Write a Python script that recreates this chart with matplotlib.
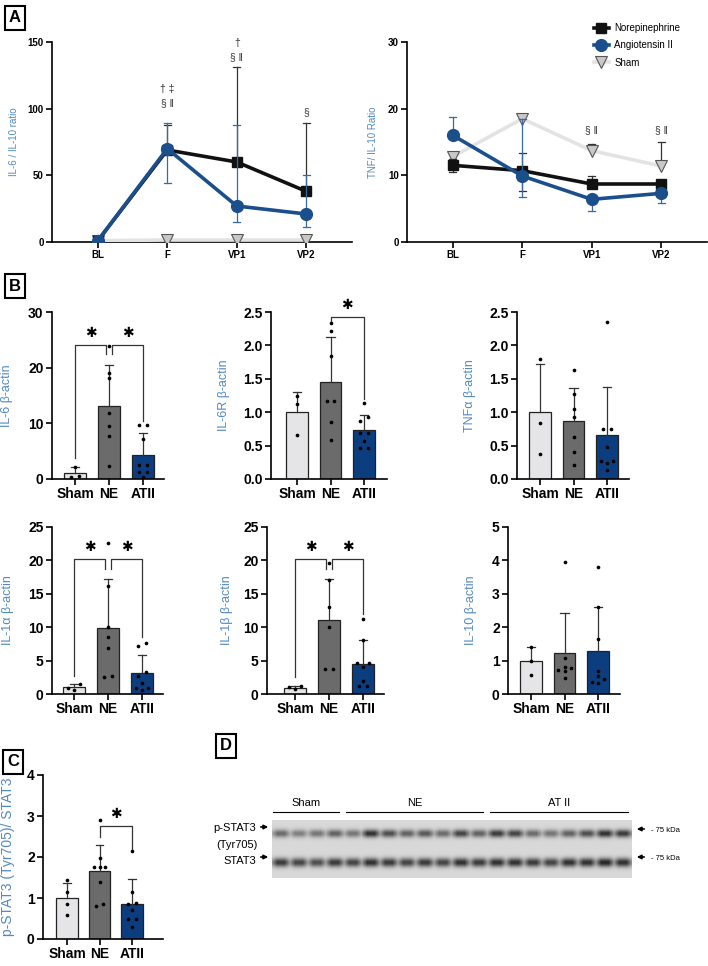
import numpy as np
import matplotlib.pyplot as plt

plt.rcParams['font.family'] = ['Liberation Sans', 'DejaVu Sans']
plt.rcParams['axes.linewidth'] = 1.2

W, H = 708, 966

# Panel A: cytokine ratios over time
timepoints = ['BL', 'F', 'VP1', 'VP2']
series_names = ['Norepinephrine', 'Angiotensin II', 'Sham']

il6_ne = [1, 69, 60, 38]
il6_ne_up = [0, 19, 71, 51]
il6_ne_lo = [0, 0, 0, 0]
il6_at = [1, 70, 27, 21]
il6_at_up = [0, 19, 61, 29]
il6_at_lo = [0, 26, 12, 10]
il6_sham = [1, 1.5, 1.5, 1.5]
il6_sham_up = [0, 0, 0, 0]

tnf_ne = [11.5, 10.7, 8.7, 8.7]
tnf_ne_up = [1.0, 2.7, 1.2, 0]
tnf_ne_lo = [1.0, 3.0, 0, 0]
tnf_at = [16.0, 9.9, 6.4, 7.3]
tnf_at_up = [2.7, 8.6, 0, 0]
tnf_at_lo = [0, 3.1, 1.7, 1.5]
tnf_sham = [12.8, 18.5, 13.7, 11.4]
tnf_sham_up = [0, 0, 1.0, 3.6]

# Panel B / C: relative expression, three groups
groups = ['Sham', 'NE', 'ATII']

il6_means = [1.0, 13.1, 4.4]
il6_sd = [1.2, 7.4, 3.8]
il6_pts = [[2.2, 0.6, 0.3], [23.9, 19.0, 18.2, 11.8, 9.5, 7.7, 2.3],
           [9.7, 9.7, 7.2, 2.5, 2.5, 1.3, 1.3, 0.4]]

il6r_means = [1.0, 1.45, 0.73]
il6r_sd = [0.3, 0.68, 0.23]
il6r_pts = [[1.25, 1.13, 0.66], [2.34, 2.22, 1.84, 1.17, 1.17, 0.85, 0.58],
            [1.14, 0.93, 0.87, 0.69, 0.69, 0.57, 0.46, 0.46]]

tnfa_means = [1.0, 0.87, 0.66]
tnfa_sd = [0.72, 0.49, 0.72]
tnfa_pts = [[1.79, 0.84, 0.37], [1.63, 1.27, 1.05, 0.93, 0.63, 0.40, 0.21],
            [2.35, 0.75, 0.75, 0.48, 0.27, 0.27, 0.24, 0.13]]

il1a_means = [1.0, 9.9, 3.1]
il1a_sd = [0.45, 7.3, 2.8]
il1a_pts = [[1.5, 0.9, 0.6], [22.6, 16.2, 10.0, 8.5, 6.9, 2.7, 2.5],
            [7.6, 7.2, 3.3, 2.7, 1.7, 0.9, 0.9, 0.6]]

il1b_means = [0.95, 11.1, 4.5]
il1b_sd = [0.2, 6.1, 3.6]
il1b_pts = [[1.2, 1.1, 0.75], [19.6, 17.1, 13.0, 10.0, 3.7, 3.7],
            [11.3, 8.1, 4.6, 4.6, 4.0, 1.9, 1.2, 1.2]]

il10_means = [1.0, 1.22, 1.28]
il10_sd = [0.4, 1.21, 1.32]
il10_pts = [[1.4, 1.0, 0.57], [3.95, 1.07, 0.8, 0.78, 0.72, 0.7, 0.47],
            [3.8, 2.6, 1.65, 0.68, 0.55, 0.45, 0.35, 0.32]]

stat_means = [1.0, 1.65, 0.86]
stat_sd = [0.37, 0.65, 0.6]
stat_pts = [[1.45, 1.15, 0.85, 0.58], [2.9, 1.97, 1.75, 1.75, 1.75, 1.4, 0.85, 0.8],
            [2.15, 1.15, 0.87, 0.85, 0.7, 0.5, 0.5, 0.3]]

# Panel D: western blot band darkness per lane (4 Sham, 8 NE, 8 AT II)
pstat3_bands = [0.55, 0.45, 0.5, 0.6, 0.5, 0.85, 0.7, 0.6, 0.65, 0.55,
                0.75, 0.6, 0.8, 0.75, 0.55, 0.5, 0.6, 0.7, 0.85, 0.8]
stat3_bands = [0.8, 0.75, 0.7, 0.8, 0.75, 0.85, 0.8, 0.75, 0.8, 0.75,
               0.85, 0.8, 0.85, 0.85, 0.8, 0.75, 0.85, 0.85, 0.9, 0.85]

bar_colors = ['#e5e5e7', '#6b6b6b', '#0c3e7f']
label_blue = '#5289c0'
at_blue = '#1b4f8c'

fig = plt.figure(figsize=(W / 100, H / 100), dpi=100)


def px_axes(left, top, right, bottom):
    return fig.add_axes([left / W, 1 - bottom / H, (right - left) / W, (bottom - top) / H])


def bold_ticks(ax):
    for t in ax.get_xticklabels() + ax.get_yticklabels():
        t.set_fontweight('bold')


def draw_err(ax, x, y, up, lo, color, cap, z):
    for xi, yi, u, l in zip(x, y, up, lo):
        for d in (u, -l):
            if d != 0:
                ax.plot([xi, xi], [yi, yi + d], color=color, lw=0.9, zorder=z)
                ax.plot([xi - cap, xi + cap], [yi + d] * 2, color=color, lw=0.9, zorder=z)


def line_panel(ax, ne, ne_up, ne_lo, at, at_up, at_lo, sham, sham_up, ymax, ylabel, label_px, left_px):
    x = np.arange(len(timepoints))
    h_sham, = ax.plot(x, sham, color='#e3e3e3', lw=2.6, marker='v', ms=8,
                      mfc='#c8c8c8', mec='#555555', mew=0.8, zorder=3)
    draw_err(ax, x, sham, sham_up, [0] * 4, '#333333', 0.05, 2)
    h_ne, = ax.plot(x, ne, color='#111111', lw=2.6, marker='s', ms=7.5, zorder=5)
    draw_err(ax, x, ne, ne_up, ne_lo, '#333333', 0.05, 4)
    h_at, = ax.plot(x, at, color=at_blue, lw=2.6, marker='o', ms=8.5, zorder=7)
    draw_err(ax, x, at, at_up, at_lo, '#3a68a0', 0.05, 6)
    ax.set_xlim(-0.66, 3.66)
    ax.set_ylim(0, ymax)
    ax.set_yticks(np.linspace(0, ymax, 4))
    ax.set_xticks(x)
    ax.set_xticklabels(timepoints)
    ax.spines[['top', 'right']].set_visible(False)
    ax.tick_params(length=4, width=1.2, labelsize=7, pad=2)
    bold_ticks(ax)
    ax.set_ylabel(ylabel, color=label_blue, fontsize=7)
    ax.yaxis.set_label_coords((label_px - left_px) / 300, 0.5)
    return h_ne, h_at, h_sham


def spread(vals, tol):
    # small horizontal offsets for points that sit at nearly the same height
    order = np.argsort(vals)
    v = np.asarray(vals, dtype=float)[order]
    offs = np.zeros(len(v))
    pattern = [0.0, -0.18, 0.18]
    start = 0
    for i in range(1, len(v) + 1):
        if i == len(v) or v[i] - v[i - 1] > tol:
            n = i - start
            if n == 2:
                offs[start:i] = [-0.11, 0.11]
            elif n > 2:
                offs[start:i] = [pattern[k % 3] for k in range(n)]
            start = i
    out = np.zeros(len(v))
    out[order] = offs
    return out


def bar_panel(box, first_px, sp, means, sds, pts, ymax, step, ylabel, label_px,
              brackets=(), label_size=9):
    left, top, right, bottom = box
    ax = px_axes(left, top, right, bottom)
    x = np.arange(3)
    ax.bar(x, means, width=0.65, color=bar_colors, edgecolor='#222222', lw=0.9, zorder=2)
    for xi, m, s in zip(x, means, sds):
        ax.plot([xi, xi], [m, m + s], color='#333333', lw=0.9, zorder=3)
        ax.plot([xi - 0.12, xi + 0.12], [m + s] * 2, color='#333333', lw=0.9, zorder=3)
    for xi, vals in zip(x, pts):
        ax.scatter(xi + spread(vals, 0.025 * ymax), vals, s=7, color='black', lw=0, zorder=4)
    for x1, x2, y, y1, y2 in brackets:
        ax.plot([x1, x1, x2, x2], [y1, y, y, y2], color='#333333', lw=0.9, zorder=3)
        ax.text((x1 + x2) / 2, y + 0.075 * ymax, '\u2731', ha='center', va='center',
                fontsize=10, family='DejaVu Sans', zorder=5)
    ax.set_xlim((left - first_px) / sp, (right - first_px) / sp)
    ax.set_ylim(0, ymax)
    ax.set_yticks(np.arange(0, ymax + step / 2, step))
    ax.set_xticks(x)
    ax.set_xticklabels(groups)
    ax.spines[['top', 'right']].set_visible(False)
    ax.tick_params(length=4, width=1.2, labelsize=10, pad=2)
    bold_ticks(ax)
    ax.set_ylabel(ylabel, color=label_blue, fontsize=label_size)
    ax.yaxis.set_label_coords((label_px - left) / (right - left), 0.5)
    return ax


# ---- panel A
axA1 = px_axes(52, 42, 352, 242)
line_panel(axA1, il6_ne, il6_ne_up, il6_ne_lo, il6_at, il6_at_up, il6_at_lo,
           il6_sham, il6_sham_up, 150, 'IL-6 / IL-10 ratio', 19, 52)
for xi, y, s in [(1, 115, '\u2020 \u2021'), (1, 104, '\u00a7 \u2016'), (2, 149, '\u2020'),
                 (2, 139, '\u00a7 \u2016'), (3, 97.5, '\u00a7')]:
    axA1.text(xi, y, s, ha='center', va='center', fontsize=7.5, color='#333333')

axA2 = px_axes(407, 42, 707, 242)
handles = line_panel(axA2, tnf_ne, tnf_ne_up, tnf_ne_lo, tnf_at, tnf_at_up, tnf_at_lo,
                     tnf_sham, tnf_sham_up, 30, 'TNF/ IL-10 Ratio', 378, 407)
for xi in (2, 3):
    axA2.text(xi, 16.8, '\u00a7 \u2016', ha='center', va='center', fontsize=7.5, color='#333333')

fig.legend(handles, series_names, loc='upper left', bbox_to_anchor=(594 / W, 1 - 23 / H),
           frameon=False, fontsize=7, handlelength=1.5, handletextpad=0.6,
           labelspacing=0.75, borderpad=0, borderaxespad=0)

# ---- panel B
bar_panel((52, 312, 164, 479), 75, 34, il6_means, il6_sd, il6_pts, 30, 10,
          'IL-6 \u03b2-actin', 13,
          brackets=[(0, 0.91, 24, 3.8, 22.5), (1.09, 2, 24, 22.5, 10.5)])
bar_panel((271, 312, 387, 479), 297, 33.5, il6r_means, il6r_sd, il6r_pts, 2.5, 0.5,
          'IL-6R \u03b2-actin', 230, brackets=[(1, 2, 2.42, 2.37, 1.2)])
bar_panel((517, 312, 629, 479), 540, 33.5, tnfa_means, tnfa_sd, tnfa_pts, 2.5, 0.5,
          'TNF\u03b1 \u03b2-actin', 476)
bar_panel((52, 527, 163, 694), 74, 34, il1a_means, il1a_sd, il1a_pts, 25, 5,
          'IL-1\u03b1 \u03b2-actin', 14,
          brackets=[(0, 0.91, 20.2, 2.7, 18.7), (1.09, 2, 20.2, 18.7, 8.5)])
bar_panel((267, 527, 384, 694), 295, 34, il1b_means, il1b_sd, il1b_pts, 25, 5,
          'IL-1\u03b2 \u03b2-actin', 233,
          brackets=[(0, 0.91, 20.2, 2.5, 18.7), (1.09, 2, 20.2, 18.7, 12.0)])
bar_panel((508, 527, 620, 694), 531, 33.5, il10_means, il10_sd, il10_pts, 5, 1,
          'IL-10 \u03b2-actin', 477)

# ---- panel C
bar_panel((43, 775, 163, 939), 67, 32.5, stat_means, stat_sd, stat_pts, 4, 1,
          'p-STAT3 (Tyr705)/ STAT3', 15, brackets=[(1, 2, 2.75, 2.5, 2.2)], label_size=10)

# ---- panel D: blot
axD = px_axes(272, 820, 632, 878)
lane_w = 18
img_h = 58
cols = np.arange(len(pstat3_bands) * lane_w)
rows = np.arange(img_h)[:, None]
lane_idx = cols // lane_w
edge = np.abs((cols % lane_w) - lane_w / 2 + 0.5) / (lane_w / 2)
horiz = np.clip(1.4 - edge, 0, 1)
p_row = np.array(pstat3_bands)[lane_idx] * horiz
s_row = np.array(stat3_bands)[lane_idx] * horiz
img = (0.2 + p_row[None, :] * np.exp(-((rows - 13) / 4.0) ** 2)
       + s_row[None, :] * np.exp(-((rows - 42) / 4.5) ** 2))
axD.imshow(img, cmap='gray_r', vmin=0, vmax=1.3, aspect='auto', interpolation='bilinear')
axD.axis('off')


def fig_text(x, y, s, **kw):
    fig.text(x / W, 1 - y / H, s, **kw)


for name, x1, x2 in [('Sham', 273, 339), ('NE', 346, 483), ('AT II', 490, 628)]:
    fig_text((x1 + x2) / 2, 803, name, ha='center', va='center', fontsize=8)
    fig.add_artist(plt.Line2D([x1 / W, x2 / W], [1 - 812 / H] * 2, color='black', lw=0.8))

fig_text(256, 828, 'p-STAT3', ha='right', va='center', fontsize=8)
fig_text(237, 845, '(Tyr705)', ha='center', va='center', fontsize=8)
fig_text(256, 861, 'STAT3', ha='right', va='center', fontsize=8)
for y in (827, 857):
    fig.add_artist(plt.Annotation('', xy=(271 / W, 1 - y / H), xytext=(258 / W, 1 - y / H),
                                  xycoords='figure fraction',
                                  arrowprops=dict(arrowstyle='-|>', color='black', lw=1.2,
                                                  mutation_scale=6)))
for y in (829, 857):
    fig.add_artist(plt.Annotation('', xy=(634 / W, 1 - y / H), xytext=(647 / W, 1 - y / H),
                                  xycoords='figure fraction',
                                  arrowprops=dict(arrowstyle='-|>', color='black', lw=1.2,
                                                  mutation_scale=6)))
    fig_text(651, y + 1, '- 75 kDa', ha='left', va='center', fontsize=5.5)

# panel letters
for letter, x, y in [('A', 15, 18), ('B', 15, 286), ('C', 13, 762), ('D', 226, 746)]:
    fig_text(x, y, letter, ha='center', va='center', fontsize=12, fontweight='bold',
             bbox=dict(boxstyle='square,pad=0.25', fc='white', ec='black', lw=1.5))

fig.savefig('out.png', dpi=100)
